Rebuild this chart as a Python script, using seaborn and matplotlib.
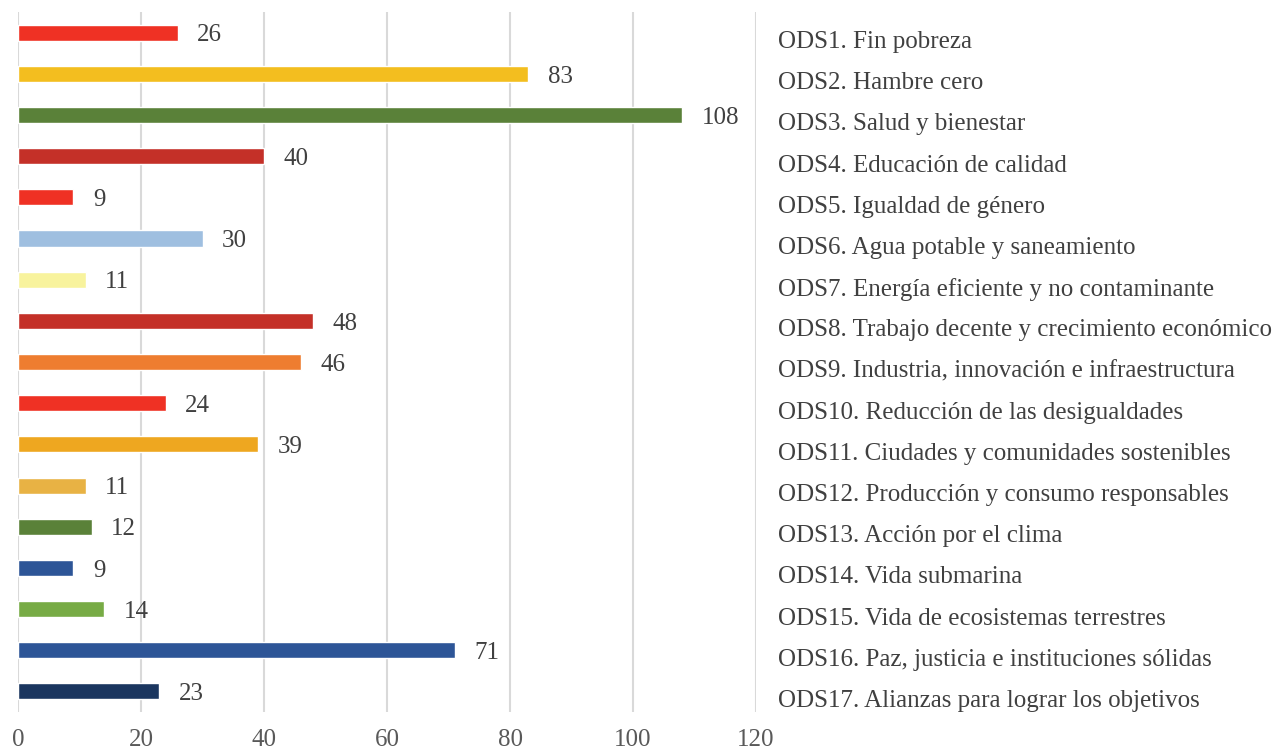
import matplotlib
matplotlib.use("Agg")
import matplotlib.pyplot as plt
import matplotlib.transforms as mtransforms
import seaborn as sns
import pandas as pd

categorias = [
    "ODS1. Fin pobreza",
    "ODS2. Hambre cero",
    "ODS3. Salud y bienestar",
    "ODS4. Educación de calidad",
    "ODS5. Igualdad de género",
    "ODS6. Agua potable y saneamiento",
    "ODS7. Energía eficiente y no contaminante",
    "ODS8. Trabajo decente y crecimiento económico",
    "ODS9. Industria, innovación e infraestructura",
    "ODS10. Reducción de las desigualdades",
    "ODS11. Ciudades y comunidades sostenibles",
    "ODS12. Producción y consumo responsables",
    "ODS13. Acción por el clima",
    "ODS14. Vida submarina",
    "ODS15. Vida de ecosistemas terrestres",
    "ODS16. Paz, justicia e instituciones sólidas",
    "ODS17. Alianzas para lograr los objetivos",
]
valores = [26, 83, 108, 40, 9, 30, 11, 48, 46, 24, 39, 11, 12, 9, 14, 71, 23]
colores = [
    "#EF3124", "#F3BE1F", "#5A8139", "#C43028", "#EF3124", "#9FBFE0",
    "#F8F39D", "#C43028", "#EE7D30", "#EF3124", "#EEA720", "#E8B244",
    "#5A8139", "#2D5597", "#77AB45", "#2D5597", "#1B365F",
]
xticks = [0, 20, 40, 60, 80, 100, 120]

df = pd.DataFrame({"ods": categorias, "n": valores})

sns.set_style("white")
plt.rcParams["font.family"] = ["Liberation Serif", "DejaVu Serif"]

fig = plt.figure(figsize=(12.73, 7.51), dpi=100)
ax = fig.add_axes([18 / 1273, 1 - 712 / 751, (756 - 18) / 1273, 700 / 751])

sns.barplot(data=df, y="ods", x="n", hue="ods", palette=colores,
            orient="h", width=0.39, legend=False, ax=ax, saturation=1)

for cont in ax.containers:
    etiquetas = ax.bar_label(cont, padding=14, fontsize=18, color="#404040")
    for t in etiquetas:
        dx, dy = t.xyann
        t.xyann = (dx, dy - 2)

ax.set_xlim(0, 120)
ax.set_ylim(16.5, -0.5)
ax.set_xticks(xticks)
ax.grid(axis="x", color="#d9d9d9", linewidth=1.5)
ax.set_axisbelow(True)
for s in ax.spines.values():
    s.set_visible(False)

ax.yaxis.tick_right()
ax.tick_params(axis="y", length=0, pad=16, labelsize=18, labelcolor="#404040")
ax.tick_params(axis="x", length=0, pad=12, labelsize=18, labelcolor="#595959")
ax.set_xlabel("")
ax.set_ylabel("")

# etiquetas un poco más abajo, como en el original
desplazar = mtransforms.ScaledTranslation(0, -7 / 100, fig.dpi_scale_trans)
for lab in ax.get_yticklabels():
    lab.set_transform(lab.get_transform() + desplazar)

fig.savefig("out.png", dpi=100)
